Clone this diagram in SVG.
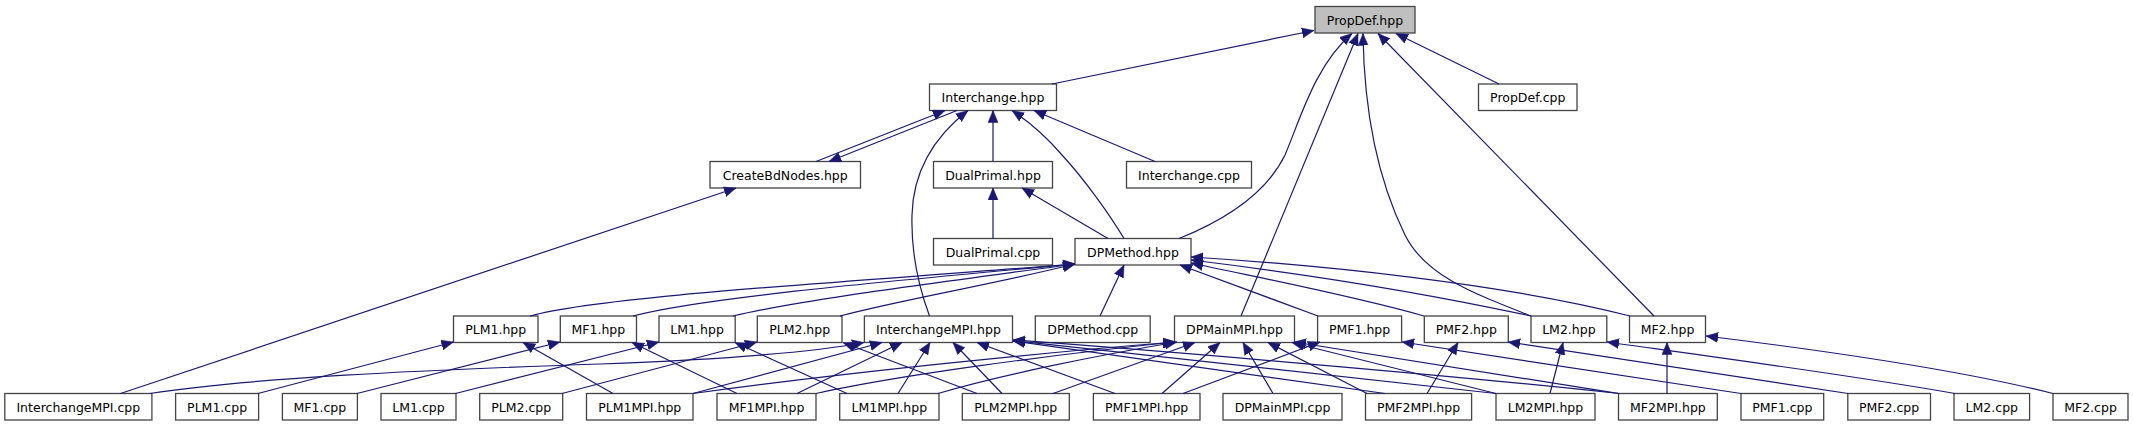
<svg xmlns="http://www.w3.org/2000/svg" width="2133" height="427" viewBox="0 0 2133 427">
<style>
.n rect{fill:#ffffff;stroke:#444444;stroke-width:1.3}
.n.root rect{fill:#bfbfbf}
.n text{font-family:"DejaVu Sans","Liberation Sans",sans-serif;font-size:12.5px;fill:#000000;text-anchor:middle}
#edges path{fill:none;stroke:#191970;stroke-width:1.2;marker-end:url(#ah)}
</style>
<defs>
<marker id="ah" markerUnits="userSpaceOnUse" markerWidth="13" markerHeight="11" refX="12" refY="5.5" orient="auto">
<path d="M0,0.5 L12,5.5 L0,10.5 z" fill="#191970" stroke="#191970" stroke-width="0.5"/>
</marker>
</defs>
<rect x="0" y="0" width="2133" height="427" fill="#ffffff"/>
<g id="nodes">
<g id="n_PropDef_hpp" class="n root"><rect x="1315" y="6.5" width="100" height="26.5"/><text x="1365" y="24.5">PropDef.hpp</text></g>
<g id="n_Interchange_hpp" class="n"><rect x="929.5" y="84" width="127" height="26.5"/><text x="993" y="102">Interchange.hpp</text></g>
<g id="n_PropDef_cpp" class="n"><rect x="1478.5" y="84" width="98.5" height="26.5"/><text x="1527.75" y="102">PropDef.cpp</text></g>
<g id="n_CreateBdNodes_hpp" class="n"><rect x="710" y="161.5" width="150.5" height="26.5"/><text x="785.25" y="179.5">CreateBdNodes.hpp</text></g>
<g id="n_DualPrimal_hpp" class="n"><rect x="933.5" y="161.5" width="119" height="26.5"/><text x="993" y="179.5">DualPrimal.hpp</text></g>
<g id="n_Interchange_cpp" class="n"><rect x="1126.5" y="161.5" width="125" height="26.5"/><text x="1189" y="179.5">Interchange.cpp</text></g>
<g id="n_DualPrimal_cpp" class="n"><rect x="933.5" y="238.5" width="119" height="26.5"/><text x="993" y="256.5">DualPrimal.cpp</text></g>
<g id="n_DPMethod_hpp" class="n"><rect x="1075" y="238.5" width="116" height="26.5"/><text x="1133" y="256.5">DPMethod.hpp</text></g>
<g id="n_PLM1_hpp" class="n"><rect x="453.5" y="316" width="84.5" height="26.5"/><text x="495.75" y="334">PLM1.hpp</text></g>
<g id="n_MF1_hpp" class="n"><rect x="560.3" y="316" width="76.2" height="26.5"/><text x="598.4" y="334">MF1.hpp</text></g>
<g id="n_LM1_hpp" class="n"><rect x="659" y="316" width="76.2" height="26.5"/><text x="697.1" y="334">LM1.hpp</text></g>
<g id="n_PLM2_hpp" class="n"><rect x="757.3" y="316" width="84.7" height="26.5"/><text x="799.65" y="334">PLM2.hpp</text></g>
<g id="n_InterchangeMPI_hpp" class="n"><rect x="864.4" y="316" width="148.1" height="26.5"/><text x="938.45" y="334">InterchangeMPI.hpp</text></g>
<g id="n_DPMethod_cpp" class="n"><rect x="1035.3" y="316" width="114.9" height="26.5"/><text x="1092.75" y="334">DPMethod.cpp</text></g>
<g id="n_DPMainMPI_hpp" class="n"><rect x="1174.5" y="316" width="120" height="26.5"/><text x="1234.5" y="334">DPMainMPI.hpp</text></g>
<g id="n_PMF1_hpp" class="n"><rect x="1317.6" y="316" width="84" height="26.5"/><text x="1359.6" y="334">PMF1.hpp</text></g>
<g id="n_PMF2_hpp" class="n"><rect x="1424.3" y="316" width="84" height="26.5"/><text x="1466.3" y="334">PMF2.hpp</text></g>
<g id="n_LM2_hpp" class="n"><rect x="1531" y="316" width="75.8" height="26.5"/><text x="1568.9" y="334">LM2.hpp</text></g>
<g id="n_MF2_hpp" class="n"><rect x="1629.5" y="316" width="76" height="26.5"/><text x="1667.5" y="334">MF2.hpp</text></g>
<g id="n_InterchangeMPI_cpp" class="n"><rect x="4.8" y="393.5" width="147.1" height="26.5"/><text x="78.35" y="411.5">InterchangeMPI.cpp</text></g>
<g id="n_PLM1_cpp" class="n"><rect x="175.6" y="393.5" width="83" height="26.5"/><text x="217.1" y="411.5">PLM1.cpp</text></g>
<g id="n_MF1_cpp" class="n"><rect x="282.4" y="393.5" width="75" height="26.5"/><text x="319.9" y="411.5">MF1.cpp</text></g>
<g id="n_LM1_cpp" class="n"><rect x="381" y="393.5" width="75" height="26.5"/><text x="418.5" y="411.5">LM1.cpp</text></g>
<g id="n_PLM2_cpp" class="n"><rect x="479.7" y="393.5" width="83" height="26.5"/><text x="521.2" y="411.5">PLM2.cpp</text></g>
<g id="n_PLM1MPI_hpp" class="n"><rect x="586.5" y="393.5" width="106.5" height="26.5"/><text x="639.75" y="411.5">PLM1MPI.hpp</text></g>
<g id="n_MF1MPI_hpp" class="n"><rect x="717" y="393.5" width="99" height="26.5"/><text x="766.5" y="411.5">MF1MPI.hpp</text></g>
<g id="n_LM1MPI_hpp" class="n"><rect x="839.7" y="393.5" width="99.3" height="26.5"/><text x="889.35" y="411.5">LM1MPI.hpp</text></g>
<g id="n_PLM2MPI_hpp" class="n"><rect x="962.3" y="393.5" width="107" height="26.5"/><text x="1015.8" y="411.5">PLM2MPI.hpp</text></g>
<g id="n_PMF1MPI_hpp" class="n"><rect x="1093.4" y="393.5" width="106.6" height="26.5"/><text x="1146.7" y="411.5">PMF1MPI.hpp</text></g>
<g id="n_DPMainMPI_cpp" class="n"><rect x="1223" y="393.5" width="119" height="26.5"/><text x="1282.5" y="411.5">DPMainMPI.cpp</text></g>
<g id="n_PMF2MPI_hpp" class="n"><rect x="1365.5" y="393.5" width="106.1" height="26.5"/><text x="1418.55" y="411.5">PMF2MPI.hpp</text></g>
<g id="n_LM2MPI_hpp" class="n"><rect x="1496" y="393.5" width="99" height="26.5"/><text x="1545.5" y="411.5">LM2MPI.hpp</text></g>
<g id="n_MF2MPI_hpp" class="n"><rect x="1618.5" y="393.5" width="98.8" height="26.5"/><text x="1667.9" y="411.5">MF2MPI.hpp</text></g>
<g id="n_PMF1_cpp" class="n"><rect x="1741" y="393.5" width="82.7" height="26.5"/><text x="1782.35" y="411.5">PMF1.cpp</text></g>
<g id="n_PMF2_cpp" class="n"><rect x="1847.8" y="393.5" width="82.7" height="26.5"/><text x="1889.15" y="411.5">PMF2.cpp</text></g>
<g id="n_LM2_cpp" class="n"><rect x="1954" y="393.5" width="75.6" height="26.5"/><text x="1991.8" y="411.5">LM2.cpp</text></g>
<g id="n_MF2_cpp" class="n"><rect x="2053" y="393.5" width="75" height="26.5"/><text x="2090.5" y="411.5">MF2.cpp</text></g>
</g>
<g id="edges">
<path d="M1052,84 L1314,30.5"/>
<path d="M1499,84 L1396,33.5"/>
<path d="M1179,238.5 C1230,218 1268,190 1285,155 C1300,120 1315,65 1352,33.5"/>
<path d="M1241,316 L1358,33.5"/>
<path d="M1531,316 C1470,292 1425,275 1405,235 C1378,180 1364,110 1363,33.5"/>
<path d="M1654,316 L1378,33.5"/>
<path d="M816,161.5 L945,110.5"/>
<path d="M957,110.5 L829,161.5"/>
<path d="M929.5,316 C918,285 911,250 912,215 C913,175 930,140 968,110.5"/>
<path d="M993,161.5 L993,110.5"/>
<path d="M1124,238.5 C1110,215 1085,180 1062,155 C1045,135 1028,121 1012,110.5"/>
<path d="M1155,161.5 L1034,110.5"/>
<path d="M993,238.5 L993,188"/>
<path d="M1108,238.5 L1022,188"/>
<path d="M120.5,393.5 L736,188"/>
<path d="M530,316 C600,296 850,282 1075,264"/>
<path d="M633,316 C700,298 880,282 1075,264"/>
<path d="M733,316 C800,300 920,285 1075,264"/>
<path d="M840,316 C900,300 990,285 1075,264"/>
<path d="M1100,316 L1124,265"/>
<path d="M1318,316 L1180,265"/>
<path d="M1424,316 C1350,295 1260,278 1191,263"/>
<path d="M1531,316 C1420,292 1290,272 1191,260"/>
<path d="M1630,316 C1500,283 1320,265 1191,257"/>
<path d="M258,393.5 L453.5,342"/>
<path d="M613,393.5 L523,342.5"/>
<path d="M357,393.5 L560,342"/>
<path d="M737,393.5 L632,342.5"/>
<path d="M455.5,393.5 L659,342"/>
<path d="M847,393.5 L735,342.5"/>
<path d="M562,393.5 L757,342"/>
<path d="M977,393.5 L843,342.5"/>
<path d="M150,393.5 C250,378 420,370 600,364 C760,358 825,350 864,342.5"/>
<path d="M693,393.5 L882,342.5"/>
<path d="M797,393.5 L902,342.5"/>
<path d="M898,393.5 L930,342.5"/>
<path d="M1002,393.5 L953,342.5"/>
<path d="M1115,393.5 L977,342.5"/>
<path d="M1385,393.5 L1013,341"/>
<path d="M1496,393.5 L1013,340.5"/>
<path d="M1619,393.5 C1450,375 1150,350 1013,340"/>
<path d="M693,393.5 C850,372 1050,352 1175,342"/>
<path d="M816,393.5 C900,375 1050,355 1175,342"/>
<path d="M938,393.5 C1000,375 1100,355 1177,342"/>
<path d="M1053,393.5 L1195,342.5"/>
<path d="M1162,393.5 L1220,342.5"/>
<path d="M1273,393.5 L1243,342.5"/>
<path d="M1367,393.5 L1268,342.5"/>
<path d="M1496,393.5 L1292,342.5"/>
<path d="M1619,393.5 C1500,375 1380,355 1294,342"/>
<path d="M1183,393.5 L1320,342"/>
<path d="M1741,393.5 L1402,342"/>
<path d="M1427,393.5 L1458,342.5"/>
<path d="M1848,393.5 L1508,342"/>
<path d="M1550,393.5 L1563,342.5"/>
<path d="M1955,393.5 C1850,375 1700,355 1607,342"/>
<path d="M1667,393.5 L1667,342.5"/>
<path d="M2053,393.5 C1960,370 1820,350 1706,336"/>
</g>
</svg>
